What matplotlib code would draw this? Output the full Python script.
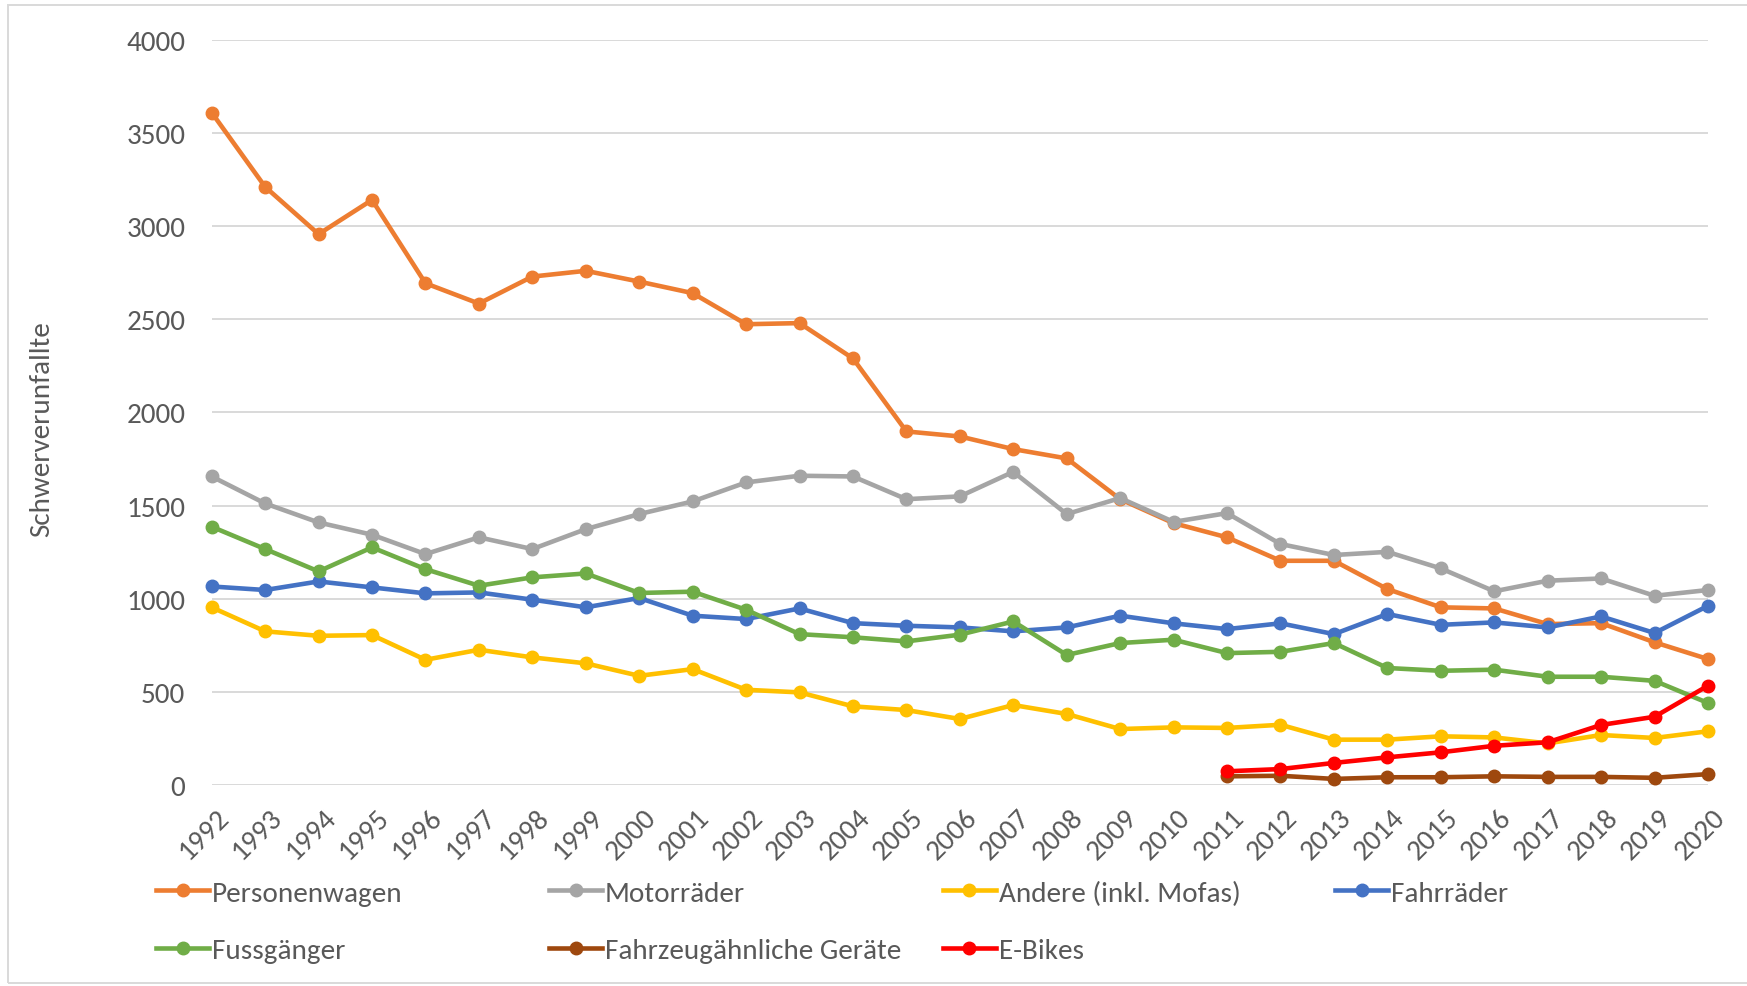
import matplotlib
matplotlib.use("Agg")
import matplotlib.pyplot as plt
from matplotlib.lines import Line2D
from matplotlib.patches import Rectangle

plt.rcParams['font.family'] = ['Carlito', 'Lato', 'DejaVu Sans']

years = list(range(1992, 2021))
years_e = list(range(2011, 2021))

personenwagen = [3611, 3212, 2958, 3142, 2694, 2585, 2730, 2761, 2703, 2641, 2474, 2480, 2290,
                 1898, 1871, 1803, 1753, 1534, 1405, 1329, 1203, 1203, 1051, 953, 947, 863, 868, 765, 675]
motorraeder = [1656, 1511, 1409, 1343, 1239, 1329, 1266, 1373, 1454, 1522, 1624, 1660, 1656,
               1534, 1549, 1681, 1454, 1540, 1412, 1459, 1293, 1234, 1251, 1162, 1039, 1096, 1108, 1015, 1046]
andere = [953, 824, 800, 804, 671, 725, 684, 652, 585, 621, 510, 496, 421,
          401, 353, 428, 380, 299, 308, 305, 322, 242, 242, 260, 254, 222, 267, 251, 287]
fahrraeder = [1065, 1046, 1092, 1060, 1028, 1033, 994, 953, 1003, 908, 890, 947, 868,
              854, 845, 824, 845, 908, 867, 836, 867, 809, 917, 859, 872, 845, 904, 815, 961]
fussgaenger = [1386, 1266, 1146, 1275, 1158, 1069, 1114, 1135, 1030, 1037, 940, 809, 792,
               770, 806, 877, 697, 761, 779, 707, 714, 761, 627, 612, 618, 580, 580, 558, 439]
fahrzeugaehnlich = [45, 48, 31, 40, 40, 45, 42, 42, 37, 57]
ebikes = [72, 84, 117, 147, 174, 209, 228, 321, 365, 532]

series = [
    ("Personenwagen", years, personenwagen, "#ED7D31"),
    ("Motorräder", years, motorraeder, "#A5A5A5"),
    ("Andere (inkl. Mofas)", years, andere, "#FFC000"),
    ("Fahrräder", years, fahrraeder, "#4472C4"),
    ("Fussgänger", years, fussgaenger, "#70AD47"),
    ("Fahrzeugähnliche Geräte", years_e, fahrzeugaehnlich, "#9E480E"),
    ("E-Bikes", years_e, ebikes, "#FF0000"),
]

yticks = [0, 500, 1000, 1500, 2000, 2500, 3000, 3500, 4000]
ylabel = "Schwerverunfallte"

W, H = 1747, 987
fig = plt.figure(figsize=(W / 100, H / 100), dpi=100)
ax = fig.add_axes([211.7 / W, 1 - 785.7 / H, (1708 - 211.7) / W, (785.7 - 41.2) / H])

text_col = "#595959"
fs = 21
lw = 3.3
ms = 9

handles = []
for i, (name, xs, ys, col) in enumerate(series):
    h, = ax.plot(xs, ys, color=col, lw=lw, marker='o', ms=ms, label=name,
                 clip_on=False, zorder=3 + i, solid_capstyle='round')
    handles.append(h)

ax.set_xlim(1992, 2020)
ax.set_ylim(0, 4000)
ax.set_yticks(yticks)
ax.set_yticklabels([str(v) for v in yticks])
ax.set_xticks(years)
ax.set_xticklabels([str(y) for y in years], rotation=45, ha='right', va='top',
                   rotation_mode='anchor')
ax.tick_params(axis='both', length=0, labelsize=fs, colors=text_col)
ax.tick_params(axis='y', pad=19)
ax.tick_params(axis='x', pad=14)
for lab in ax.get_xticklabels():
    lab.set_transform(lab.get_transform() + matplotlib.transforms.ScaledTranslation(4 / 100, 0, fig.dpi_scale_trans))
ax.grid(axis='y', color='#D9D9D9', lw=1.4, zorder=0)
ax.set_axisbelow(True)
for s in ax.spines.values():
    s.set_visible(False)

fig.text(42 / W, 1 - 429 / H, ylabel, rotation=90, ha='center', va='center',
         fontsize=fs, color=text_col)

# legend entries (Excel-style fixed columns)
col_x = [156, 549, 943, 1335]
row_y = [894, 951]
positions = [(0, 0), (1, 0), (2, 0), (3, 0), (0, 1), (1, 1), (2, 1)]
for h, (name, xs, ys, col), (c, r) in zip(handles, series, positions):
    fig.legend(handles=[Line2D([], [], color=col, lw=lw, marker='o', ms=ms)], labels=[name],
               loc='center left', bbox_to_anchor=(col_x[c] / W, 1 - row_y[r] / H),
               frameon=False, borderpad=0, borderaxespad=0, handlelength=53 / (fs * 100 / 72),
               handletextpad=0.1, fontsize=fs, labelcolor=text_col)

# chart border
fig.patches.append(Rectangle((8 / W, 1 - 984 / H), 1.0, (984 - 6) / H, transform=fig.transFigure,
                             fill=False, edgecolor='#D9D9D9', lw=1.4))

fig.savefig("out.png", dpi=100, facecolor='white')
